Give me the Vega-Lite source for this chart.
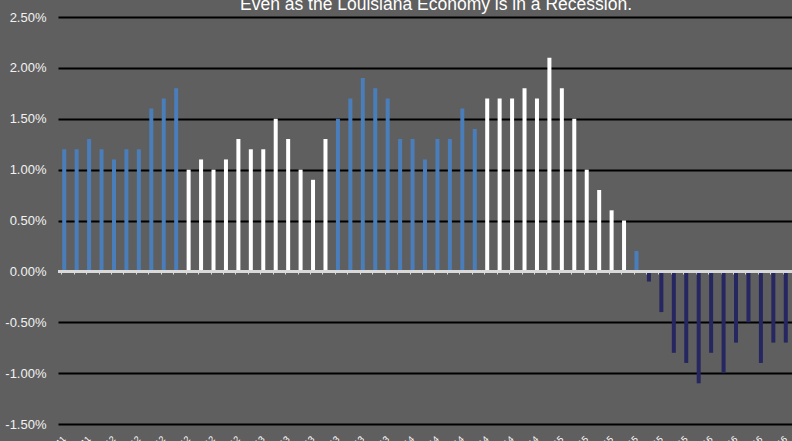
{
  "$schema": "https://vega.github.io/schema/vega-lite/v6.json",
  "autosize": {"type": "none"},
  "padding": {"left": 58, "top": 17, "right": 0, "bottom": 17},
  "width": 734,
  "height": 407,
  "background": "#5f5f5f",
  "config": {"view": {"stroke": null}},
  "title": {
    "text": "Even as the Louisiana Economy is in a Recession.",
    "frame": "group",
    "anchor": "middle",
    "orient": "top",
    "offset": -16,
    "dx": 11,
    "baseline": "alphabetic",
    "font": "Liberation Sans",
    "fontSize": 17.5,
    "fontWeight": "normal",
    "color": "#ffffff"
  },
  "data": {
    "values": [
      {"month": "Sep-11", "growth": 1.2, "grp": "A"},
      {"month": "Oct-11", "growth": 1.2, "grp": "A"},
      {"month": "Nov-11", "growth": 1.3, "grp": "A"},
      {"month": "Dec-11", "growth": 1.2, "grp": "A"},
      {"month": "Jan-12", "growth": 1.1, "grp": "A"},
      {"month": "Feb-12", "growth": 1.2, "grp": "A"},
      {"month": "Mar-12", "growth": 1.2, "grp": "A"},
      {"month": "Apr-12", "growth": 1.6, "grp": "A"},
      {"month": "May-12", "growth": 1.7, "grp": "A"},
      {"month": "Jun-12", "growth": 1.8, "grp": "A"},
      {"month": "Jul-12", "growth": 1.0, "grp": "B"},
      {"month": "Aug-12", "growth": 1.1, "grp": "B"},
      {"month": "Sep-12", "growth": 1.0, "grp": "B"},
      {"month": "Oct-12", "growth": 1.1, "grp": "B"},
      {"month": "Nov-12", "growth": 1.3, "grp": "B"},
      {"month": "Dec-12", "growth": 1.2, "grp": "B"},
      {"month": "Jan-13", "growth": 1.2, "grp": "B"},
      {"month": "Feb-13", "growth": 1.5, "grp": "B"},
      {"month": "Mar-13", "growth": 1.3, "grp": "B"},
      {"month": "Apr-13", "growth": 1.0, "grp": "B"},
      {"month": "May-13", "growth": 0.9, "grp": "B"},
      {"month": "Jun-13", "growth": 1.3, "grp": "B"},
      {"month": "Jul-13", "growth": 1.5, "grp": "A"},
      {"month": "Aug-13", "growth": 1.7, "grp": "A"},
      {"month": "Sep-13", "growth": 1.9, "grp": "A"},
      {"month": "Oct-13", "growth": 1.8, "grp": "A"},
      {"month": "Nov-13", "growth": 1.7, "grp": "A"},
      {"month": "Dec-13", "growth": 1.3, "grp": "A"},
      {"month": "Jan-14", "growth": 1.3, "grp": "A"},
      {"month": "Feb-14", "growth": 1.1, "grp": "A"},
      {"month": "Mar-14", "growth": 1.3, "grp": "A"},
      {"month": "Apr-14", "growth": 1.3, "grp": "A"},
      {"month": "May-14", "growth": 1.6, "grp": "A"},
      {"month": "Jun-14", "growth": 1.4, "grp": "A"},
      {"month": "Jul-14", "growth": 1.7, "grp": "B"},
      {"month": "Aug-14", "growth": 1.7, "grp": "B"},
      {"month": "Sep-14", "growth": 1.7, "grp": "B"},
      {"month": "Oct-14", "growth": 1.8, "grp": "B"},
      {"month": "Nov-14", "growth": 1.7, "grp": "B"},
      {"month": "Dec-14", "growth": 2.1, "grp": "B"},
      {"month": "Jan-15", "growth": 1.8, "grp": "B"},
      {"month": "Feb-15", "growth": 1.5, "grp": "B"},
      {"month": "Mar-15", "growth": 1.0, "grp": "B"},
      {"month": "Apr-15", "growth": 0.8, "grp": "B"},
      {"month": "May-15", "growth": 0.6, "grp": "B"},
      {"month": "Jun-15", "growth": 0.5, "grp": "B"},
      {"month": "Jul-15", "growth": 0.2, "grp": "A"},
      {"month": "Aug-15", "growth": -0.1, "grp": "N"},
      {"month": "Sep-15", "growth": -0.4, "grp": "N"},
      {"month": "Oct-15", "growth": -0.8, "grp": "N"},
      {"month": "Nov-15", "growth": -0.9, "grp": "N"},
      {"month": "Dec-15", "growth": -1.1, "grp": "N"},
      {"month": "Jan-16", "growth": -0.8, "grp": "N"},
      {"month": "Feb-16", "growth": -1.0, "grp": "N"},
      {"month": "Mar-16", "growth": -0.7, "grp": "N"},
      {"month": "Apr-16", "growth": -0.5, "grp": "N"},
      {"month": "May-16", "growth": -0.9, "grp": "N"},
      {"month": "Jun-16", "growth": -0.7, "grp": "N"},
      {"month": "Jul-16", "growth": -0.7, "grp": "N"}
    ]
  },
  "layer": [
    {
      "mark": {"type": "bar", "size": 4},
      "encoding": {
        "x": {
          "field": "month",
          "type": "ordinal",
          "sort": null,
          "scale": {"paddingInner": 0.6, "paddingOuter": 0.3},
          "axis": {
            "title": null,
            "orient": "bottom",
            "offset": -153,
            "domain": false,
            "ticks": true,
            "bandPosition": 0,
            "tickColor": "#d9d9d9",
            "tickSize": 3,
            "tickWidth": 1,
            "labelAngle": -45,
            "labelAlign": "right",
            "labelBaseline": "middle",
            "labelPadding": 163,
            "labelOverlap": false,
            "labelColor": "#ffffff",
            "labelFont": "Liberation Sans",
            "labelFontSize": 9,
            "labelExpr": "indexof(['Sep','Nov','Jan','Mar','May','Jul'], slice(datum.value, 0, 3)) >= 0 ? datum.value : ''"
          }
        },
        "y": {
          "field": "growth",
          "type": "quantitative",
          "scale": {"domain": [-1.5, 2.5], "nice": false, "zero": false},
          "axis": {
            "title": null,
            "values": [-1.5, -1, -0.5, 0, 0.5, 1, 1.5, 2, 2.5],
            "domain": false,
            "ticks": false,
            "grid": true,
            "gridColor": "#000000",
            "gridWidth": 2,
            "gridOpacity": 1,
            "labelPadding": 12,
            "labelColor": "#f2f2f2",
            "labelFont": "Liberation Sans",
            "labelFontSize": 13,
            "labelExpr": "(datum.value < 0 ? '-' : '') + format(abs(datum.value), '.2f') + '%'"
          }
        },
        "color": {
          "field": "grp",
          "type": "nominal",
          "legend": null,
          "scale": {"domain": ["A", "B", "N"], "range": ["#4a7ebb", "#ffffff", "#262661"]}
        }
      }
    },
    {
      "mark": {"type": "rule", "color": "#d9d9d9", "strokeWidth": 2},
      "encoding": {"y": {"datum": 0}}
    }
  ]
}
